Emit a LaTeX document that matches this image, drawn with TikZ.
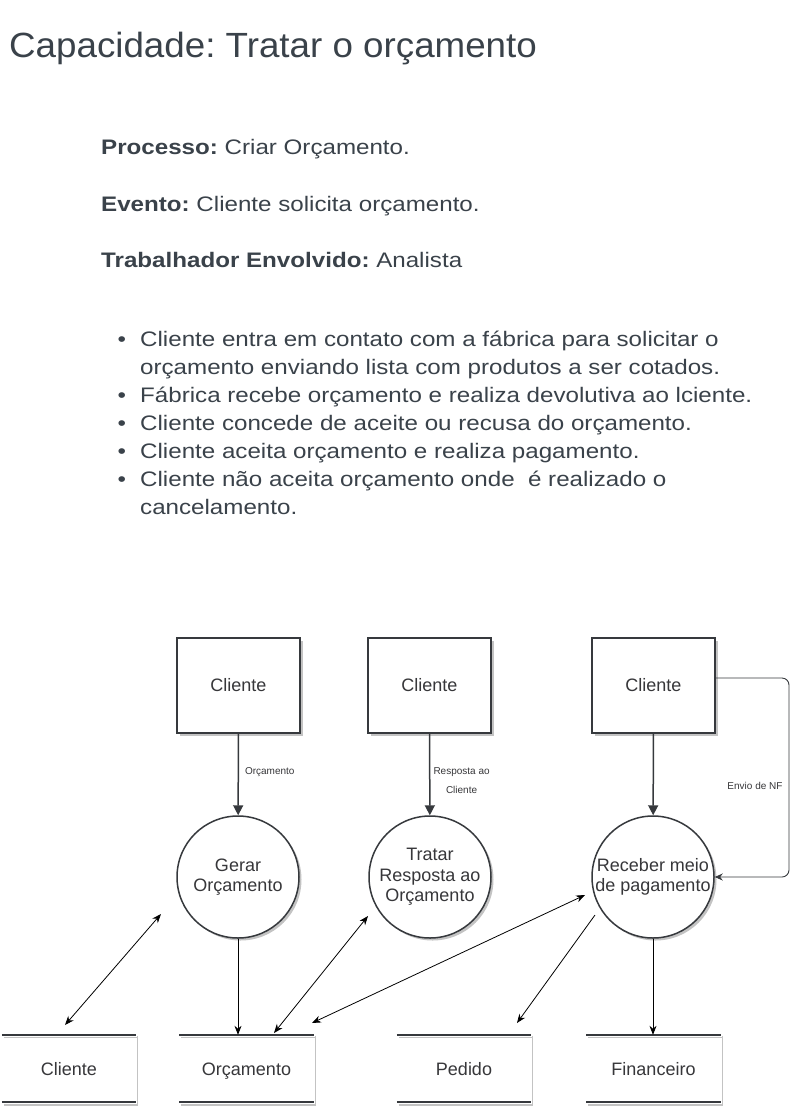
\documentclass[tikz,border=0pt]{standalone}
\usepackage{fontspec}
\setmainfont{Liberation Sans}
\newfontfamily\widesans[FakeStretch=1.15]{Liberation Sans}
\newfontfamily\titlesans[FakeStretch=1.05]{Liberation Sans}
\usetikzlibrary{arrows.meta,shadows}
\definecolor{txt}{RGB}{58,66,74}
\definecolor{dtxt}{RGB}{55,55,58}
\definecolor{strk}{RGB}{54,57,61}
\definecolor{shad}{RGB}{195,195,195}
\frenchspacing
\begin{document}
\begin{tikzpicture}[x=1pt,y=-1pt,
  head/.style={anchor=base west,inner sep=0,text=txt,font=\widesans\fontsize{21}{24}\selectfont},
  bul/.style={anchor=base west,inner sep=0,text=txt,align=left,font=\widesans\fontsize{21}{28}\selectfont},
  ext/.style={draw=strk,line width=1.5pt,fill=white,minimum width=123pt,minimum height=95pt,inner sep=0,
    text=dtxt,font=\fontsize{18}{20}\selectfont,drop shadow={shadow xshift=2.5pt,shadow yshift=-2.5pt,fill=shad,opacity=1}},
  proc/.style={circle,draw=strk,line width=1.5pt,fill=white,minimum size=122pt,inner sep=0,align=center,
    text=dtxt,font=\fontsize{18}{20.5}\selectfont,drop shadow={shadow xshift=2.5pt,shadow yshift=-2.5pt,fill=shad,opacity=1}},
  store/.style={minimum width=134pt,minimum height=67pt,inner sep=0,text height=14pt,text depth=0pt,
    text=dtxt,font=\fontsize{18}{20}\selectfont},
  flow/.style={draw=strk,line width=1.5pt,-{Triangle[length=10pt,width=10pt]}},
  thin/.style={draw=black,line width=0.8pt,>={Stealth[length=9pt,width=7pt]}},
  lbl/.style={inner sep=0,text=dtxt,align=center,font=\fontsize{10}{19}\selectfont}]
\useasboundingbox[fill=white] (0,0) rectangle (808,1114);

% header texts
\node[anchor=base west,inner sep=0,text=txt,font=\titlesans\fontsize{35}{40}\selectfont] (title) at (9,57) {Capacidade: Tratar o orçamento};
\node[head] (proc) at (101,154) {\textbf{Processo:} Criar Orçamento.};
\node[head] (evt) at (101,211) {\textbf{Evento:} Cliente solicita orçamento.};
\node[head] (trab) at (101,267) {\textbf{Trabalhador Envolvido:} Analista};

\foreach \y/\n in {346/b1,402/b2,430/b3,458/b4,486/b5}{
  \node[bul] (\n dot) at (117.5,\y) {\textbullet};
}
\node[bul] (b1) at (140,374) {Cliente entra em contato com a fábrica para solicitar o\\orçamento enviando lista com produtos a ser cotados.};
\node[bul] (b2) at (140,402) {Fábrica recebe orçamento e realiza devolutiva ao lciente.};
\node[bul] (b3) at (140,430) {Cliente concede de aceite ou recusa do orçamento.};
\node[bul] (b4) at (140,458) {Cliente aceita orçamento e realiza pagamento.};
\node[bul] (b5) at (140,514) {Cliente não aceita orçamento onde\ \ é realizado o\\cancelamento.};

% external entities
\node[ext] (e1) at (238.5,685.5) {Cliente};
\node[ext] (e2) at (429.5,685.5) {Cliente};
\node[ext] (e3) at (653.5,685.5) {Cliente};

% processes
\node[proc] (p1) at (238,877) {Gerar\\Orçamento};
\node[proc] (p2) at (430,877) {Tratar\\Resposta ao\\Orçamento};
\node[proc] (p3) at (653,877) {Receber meio\\de pagamento};

% data stores
\node[store] (s1) at (69,1068.5) {Cliente};
\node[store] (s2) at (246.5,1068.5) {Orçamento};
\node[store] (s3) at (464,1068.5) {Pedido};
\node[store] (s4) at (653.5,1068.5) {Financeiro};
\foreach \s in {s1,s2,s3,s4}{
  \draw[shad,line width=1.2pt] ([shift={(2,2.5)}]\s.north west) -- ([shift={(2,2.5)}]\s.north east);
  \draw[shad,line width=2pt] ([shift={(2,3)}]\s.south west) -- ([shift={(2,3)}]\s.south east);
  \draw[shad,line width=1.2pt] ([shift={(1.5,1)}]\s.north east) -- ([shift={(1.5,2)}]\s.south east);
  \draw[strk,line width=2.5pt] (\s.north west) -- (\s.north east);
  \draw[strk,line width=2.5pt] (\s.south west) -- (\s.south east);
}

% flows from entities
\draw[flow] (e1) -- (p1) node[lbl,anchor=west,pos=0.47,xshift=6pt] (l1) {Orçamento};
\draw[flow] (e2) -- (p2) node[lbl,anchor=west,pos=0.57,xshift=3pt] (l2) {Resposta ao\\Cliente};
\draw[flow] (e3) -- (p3);
\draw[draw=strk,line width=0.9pt,rounded corners=7pt,-{Stealth[length=8pt,width=7pt]}]
  (e3.east |- 0,678) -- (789,678) -- (789,877) -- (p3.east);
\node[lbl] (l3) at (755,786) {Envio de NF};

% free ends
\coordinate (c1a) at (65,1025);
\coordinate (c1b) at (161,914);
\coordinate (c3a) at (274,1033);
\coordinate (c3b) at (368,916);
\coordinate (c4a) at (312,1023);
\coordinate (c4b) at (585,895);
\coordinate (c5a) at (595,915);
\coordinate (c5b) at (517,1023);

\draw[thin,<->] (c1a) -- (c1b);
\draw[thin,->] (p1) -- (p1 |- s2.north);
\draw[thin,<->] (c3a) -- (c3b);
\draw[thin,<->] (c4a) -- (c4b);
\draw[thin,->] (c5a) -- (c5b);
\draw[thin,->] (p3) -- (p3 |- s4.north);
\end{tikzpicture}
\end{document}
